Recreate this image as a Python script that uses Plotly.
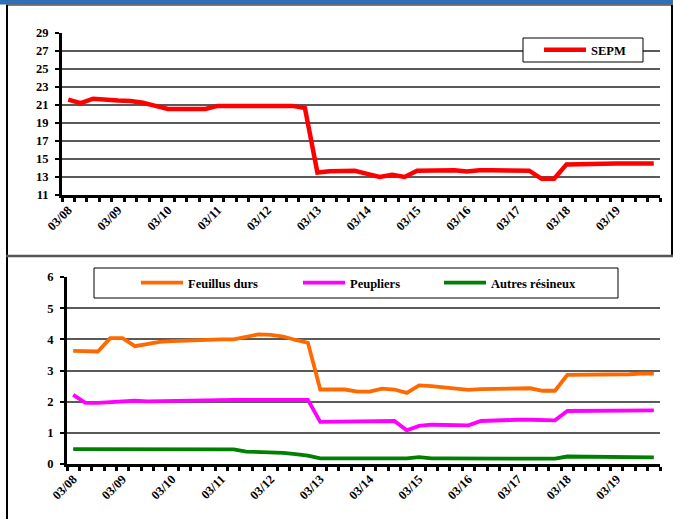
import plotly.graph_objects as go

# ---------------- data ----------------
years = ["08", "09", "10", "11", "12", "13", "14", "15", "16", "17", "18", "19"]
months = ["03", "06", "09", "12"]
categories = [m + "/" + y for y in years for m in months]
tick_labels = [c if c.startswith("03/") else "" for c in categories]

sepm = [21.6, 21.2, 21.7, 21.55, 21.5, 21.45, 21.25, 20.9, 20.55, 20.55,
        20.55, 20.55, 20.9, 20.9, 20.9, 20.9, 20.9, 20.9, 20.9, 20.65,
        13.5, 13.65, 13.65, 13.7, 13.35, 13.0, 13.25, 13.0, 13.7, 13.7,
        13.7, 13.75, 13.6, 13.75, 13.75, 13.7, 13.7, 13.7, 12.8, 12.8,
        14.4, 14.45, 14.5, 14.5, 14.5, 14.5, 14.5, 14.5]

feuillus_durs = [3.63, 3.61, 3.61, 4.04, 4.04, 3.78, 3.84, 3.92, 3.94, 3.96,
                 3.97, 4.0, 4.0, 4.0, 4.08, 4.16, 4.14, 4.09, 3.98, 3.89,
                 2.39, 2.39, 2.39, 2.32, 2.32, 2.42, 2.39, 2.28, 2.52, 2.5,
                 2.45, 2.41, 2.38, 2.4, 2.41, 2.42, 2.44, 2.43, 2.35, 2.35,
                 2.86, 2.86, 2.86, 2.88, 2.88, 2.88, 2.9, 2.9]

peupliers = [2.22, 1.96, 1.96, 1.98, 2.03, 2.03, 2.01, 2.02, 2.02, 2.02,
             2.03, 2.06, 2.06, 2.06, 2.06, 2.06, 2.06, 2.06, 2.06, 2.06,
             1.35, 1.35, 1.35, 1.35, 1.35, 1.38, 1.38, 1.08, 1.22, 1.26,
             1.26, 1.25, 1.24, 1.38, 1.4, 1.42, 1.42, 1.42, 1.4, 1.4,
             1.7, 1.7, 1.7, 1.7, 1.7, 1.72, 1.72, 1.72]

autres_resineux = [0.48, 0.48, 0.48, 0.48, 0.48, 0.48, 0.48, 0.46, 0.47, 0.47,
                   0.47, 0.47, 0.47, 0.47, 0.4, 0.39, 0.38, 0.36, 0.32, 0.27,
                   0.18, 0.18, 0.18, 0.18, 0.18, 0.18, 0.18, 0.18, 0.22, 0.18,
                   0.18, 0.18, 0.16, 0.17, 0.17, 0.17, 0.17, 0.17, 0.17, 0.17,
                   0.24, 0.24, 0.24, 0.24, 0.24, 0.24, 0.24, 0.21]

# ---------------- layout helpers ----------------
W, H = 673, 519


def px(x):
    return x / W


def py(y):
    return 1 - y / H


FONT = "Liberation Serif, Times New Roman, serif"
tickfont = dict(family=FONT, size=12.5, color="black", weight="bold")
legfont = dict(family=FONT, size=12.5, color="black", weight="bold")

fig = go.Figure()

fig.add_trace(go.Scatter(x=categories, y=sepm, mode="lines", name="SEPM",
                         line=dict(color="#FF0000", width=4.5), showlegend=True,
                         xaxis="x", yaxis="y", legend="legend"))
fig.add_trace(go.Scatter(x=categories, y=feuillus_durs, mode="lines", name="Feuillus durs",
                         line=dict(color="#FF6A00", width=3.8), showlegend=True,
                         xaxis="x2", yaxis="y2", legend="legend2"))
fig.add_trace(go.Scatter(x=categories, y=peupliers, mode="lines", name="Peupliers",
                         line=dict(color="#FF00FF", width=3.8), showlegend=True,
                         xaxis="x2", yaxis="y2", legend="legend3"))
fig.add_trace(go.Scatter(x=categories, y=autres_resineux, mode="lines", name="Autres résineux",
                         line=dict(color="#008000", width=3.8), showlegend=True,
                         xaxis="x2", yaxis="y2", legend="legend4"))

xcommon = dict(type="category", categoryorder="array", categoryarray=categories,
               range=[-0.5, len(categories) - 0.5], tickmode="array",
               tickvals=categories, ticktext=tick_labels, tickangle=-45,
               tickson="boundaries", ticks="outside", ticklen=4, tickwidth=3,
               tickcolor="black", showline=True, linecolor="black", linewidth=3,
               showgrid=False, zeroline=False, tickfont=tickfont, fixedrange=True,
               automargin=False)

ycommon = dict(ticks="outside", ticklen=4, tickwidth=2, tickcolor="black",
               showline=True, linecolor="black", linewidth=3, showgrid=True,
               gridcolor="#5a5a5a", gridwidth=1.5, zeroline=False,
               tickfont=tickfont, fixedrange=True, ticklabelstandoff=4,
               automargin=False)

legcommon = dict(bgcolor="rgba(0,0,0,0)", borderwidth=0, font=legfont,
                 orientation="h", xanchor="left", yanchor="middle",
                 xref="container", yref="container", visible=True,
                 itemwidth=42)

fig.update_layout(
    template="none",
    showlegend=True,
    width=W, height=H, margin=dict(l=0, r=0, t=0, b=0, pad=0, autoexpand=False),
    paper_bgcolor="white", plot_bgcolor="white",
    xaxis=dict(xcommon, domain=[px(62), px(660)], anchor="y"),
    yaxis=dict(ycommon, domain=[py(195), py(33)], anchor="x",
               range=[11, 29], tick0=11, dtick=2),
    xaxis2=dict(xcommon, domain=[px(67), px(660)], anchor="y2"),
    yaxis2=dict(ycommon, domain=[py(464), py(277)], anchor="x2",
                range=[0, 6], tick0=0, dtick=1),
    legend=dict(legcommon, x=px(539), y=py(50)),
    legend2=dict(legcommon, x=px(136), y=py(283)),
    legend3=dict(legcommon, x=px(298), y=py(283)),
    legend4=dict(legcommon, x=px(439), y=py(283)),
    shapes=[
        # title band
        dict(type="rect", xref="paper", yref="paper", x0=0, x1=1, y0=py(4.5), y1=1,
             fillcolor="#2F6FB5", line=dict(width=0), layer="above"),
        dict(type="line", xref="paper", yref="paper", x0=px(6), x1=1, y0=py(5), y1=py(5),
             line=dict(color="#555555", width=1.5), layer="above"),
        # frame lines
        dict(type="line", xref="paper", yref="paper", x0=px(7), x1=px(7), y0=py(5), y1=0,
             line=dict(color="black", width=2), layer="above"),
        dict(type="line", xref="paper", yref="paper", x0=px(672), x1=px(672), y0=py(5), y1=py(256),
             line=dict(color="black", width=2), layer="above"),
        dict(type="line", xref="paper", yref="paper", x0=px(6), x1=1, y0=py(256), y1=py(256),
             line=dict(color="#555555", width=2.5), layer="above"),
        # legend boxes
        dict(type="rect", xref="paper", yref="paper", x0=px(523), x1=px(643), y0=py(62), y1=py(38),
             fillcolor="white", line=dict(color="black", width=1), layer="above"),
        dict(type="rect", xref="paper", yref="paper", x0=px(94), x1=px(618), y0=py(298), y1=py(268),
             fillcolor="white", line=dict(color="black", width=1), layer="above"),
    ],
)

fig.write_html("out.html", config={"displayModeBar": False},
               post_script="document.body.style.margin='0';document.body.style.overflow='hidden';")
